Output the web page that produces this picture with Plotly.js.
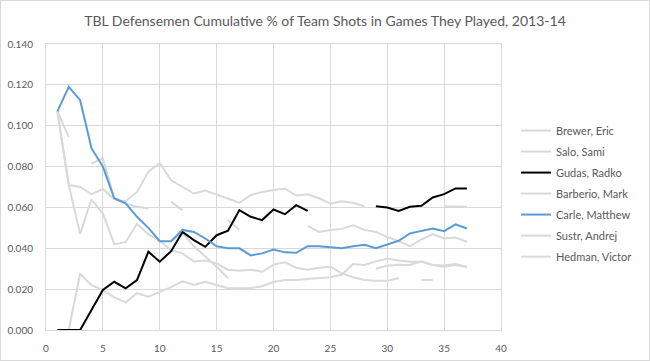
<!DOCTYPE html>
<html>
<head>
<meta charset="utf-8">
<script src="https://cdn.plot.ly/plotly-3.0.1.min.js"></script>
<style>
html,body{margin:0;padding:0;background:#fff;}
#chart{position:absolute;left:0;top:0;width:648px;height:359px;border:1px solid #d9d9d9;}
</style>
</head>
<body>
<div id="chart"></div>
<script>
const games = Array.from({length: 37}, (_, i) => i + 1);

const brewer = [0.107, 0.071, 0.070, 0.0665, 0.069, 0.0640, 0.0630, 0.0676, 0.0774, 0.0818,
  0.0733, 0.0700, 0.0668, 0.0683, 0.0663, 0.0640, 0.0623, 0.0660, 0.0676, 0.0685,
  0.0693, 0.0658, 0.0664, 0.0645, 0.0618, 0.0630, 0.0623, 0.0606, null, null,
  null, null, null, null, 0.0606, 0.0603, 0.0603];

const salo = [0.107, 0.0945, null, 0.0815, 0.084, 0.0644, 0.062, 0.0603, 0.0595, null,
  0.0627, 0.0587, null, null, null, 0.0538, 0.049, null, null, null,
  null, null, 0.051, 0.048, 0.0489, 0.0495, 0.0512, 0.049, 0.048, 0.0455,
  0.0435, 0.041, 0.0443, 0.047, 0.0448, 0.0453, 0.0432];

const gudas = [0, 0, 0, 0.0098, 0.0196, 0.0236, 0.0204, 0.0244, 0.0383, 0.0334,
  0.0386, 0.048, 0.044, 0.0407, 0.0464, 0.0486, 0.0587, 0.0554, 0.0538, 0.059,
  0.0567, 0.0611, 0.0583, null, null, null, null, null, 0.0606, 0.060,
  0.0583, 0.0603, 0.0608, 0.0649, 0.0665, 0.0693, 0.0693];

const barberio = [0.107, 0.071, 0.047, 0.064, 0.057, 0.042, 0.043, 0.052, 0.0468, 0.0438,
  0.039, 0.0375, 0.0335, 0.034, 0.0326, 0.0295, 0.029, 0.0295, 0.0285, 0.032,
  0.0332, 0.0305, 0.0295, 0.0305, 0.031, 0.0277, 0.0258, 0.0245, 0.0241, 0.0241,
  0.0253, null, 0.0245, 0.0245, null, null, null];

const carle = [0.107, 0.119, 0.1125, 0.089, 0.080, 0.0645, 0.062, 0.0554, 0.050, 0.0435,
  0.0435, 0.049, 0.048, 0.0448, 0.041, 0.040, 0.040, 0.0365, 0.0375, 0.0394,
  0.038, 0.0378, 0.041, 0.041, 0.0405, 0.040, 0.041, 0.0417, 0.040, 0.042,
  0.0437, 0.0473, 0.0484, 0.0497, 0.0484, 0.0517, 0.0497];

const sustr = [null, 0, 0.0275, 0.022, 0.0196, 0.016, 0.0135, 0.018, 0.0163, 0.0187,
  0.021, 0.0238, 0.022, 0.0236, 0.022, 0.0204, 0.0204, 0.0206, 0.0214, 0.0235,
  0.0245, 0.0245, 0.025, 0.0255, 0.0258, 0.027, 0.0323, 0.0318, 0.0336, 0.035,
  0.034, 0.0334, 0.0334, 0.0318, 0.031, 0.0318, 0.031];

const hedman = [null, null, null, null, null, null, null, null, null, null,
  0.0435, 0.0475, 0.041, 0.0362, 0.031, 0.0253, null, null, null, null,
  null, null, null, null, null, null, null, null, 0.0300, 0.0315,
  0.0320, 0.0318, 0.0336, 0.0318, 0.0316, 0.0323, 0.0308];

const seriesNames = ["Brewer, Eric", "Salo, Sami", "Gudas, Radko", "Barberio, Mark",
  "Carle, Matthew", "Sustr, Andrej", "Hedman, Victor"];
const seriesData = [brewer, salo, gudas, barberio, carle, sustr, hedman];
const seriesColors = ["#d9d9d9", "#d9d9d9", "#000000", "#d9d9d9", "#5b9bd5", "#d9d9d9", "#d9d9d9"];

const xTicks = [0, 5, 10, 15, 20, 25, 30, 35, 40];
const yTicks = [0, 0.02, 0.04, 0.06, 0.08, 0.10, 0.12, 0.14];

const traces = seriesNames.map((name, i) => ({
  x: games,
  y: seriesData[i],
  name: name,
  type: "scatter",
  mode: "lines",
  connectgaps: false,
  legendgroup: "g" + i,
  legendrank: i + 1,
  line: {color: seriesColors[i], width: 2}
}));

// draw order: grey first, then black, then blue (legend order kept via legendrank)
const order = [0, 1, 3, 5, 6, 2, 4];
const drawn = order.map(i => traces[i]);

const tickFont = {family: "Lato, 'Open Sans', sans-serif", size: 10, color: "#595959"};

const layout = {
  width: 648,
  height: 359,
  margin: {l: 45, r: 140, t: 43, b: 30},
  paper_bgcolor: "#ffffff",
  plot_bgcolor: "#ffffff",
  title: {
    text: "TBL Defensemen Cumulative % of Team Shots in Games They Played, 2013-14",
    font: {family: "Lato, 'Open Sans', sans-serif", size: 14, color: "#595959"},
    x: 0.5, xref: "container", xanchor: "center",
    y: 1 - 20 / 359, yref: "container", yanchor: "middle"
  },
  xaxis: {
    range: [0, 40],
    tickvals: xTicks,
    showgrid: true,
    gridcolor: "#d9d9d9",
    gridwidth: 1,
    zeroline: false,
    showline: true,
    linecolor: "#d9d9d9",
    mirror: true,
    ticks: "outside",
    ticklen: 9,
    tickcolor: "rgba(0,0,0,0)",
    tickfont: tickFont,
    fixedrange: true
  },
  yaxis: {
    range: [0, 0.14],
    tickvals: yTicks,
    tickformat: ".3f",
    showgrid: true,
    gridcolor: "#d9d9d9",
    gridwidth: 1,
    zeroline: false,
    showline: true,
    linecolor: "#d9d9d9",
    mirror: true,
    ticks: "outside",
    ticklen: 10,
    tickcolor: "rgba(0,0,0,0)",
    tickfont: tickFont,
    fixedrange: true
  },
  legend: {
    x: 1.033, xanchor: "left",
    y: 0.748, yanchor: "top",
    font: {family: "Lato, 'Open Sans', sans-serif", size: 11, color: "#595959"},
    tracegroupgap: 2,
    bgcolor: "rgba(0,0,0,0)"
  },
  hovermode: false,
  showlegend: true
};

Plotly.newPlot("chart", drawn, layout, {displayModeBar: false, staticPlot: true});
</script>
</body>
</html>
